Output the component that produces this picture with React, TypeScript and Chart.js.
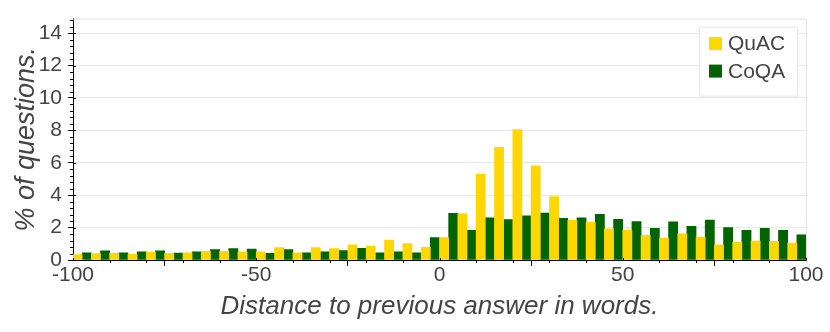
import React, { useEffect, useRef } from "react";
import { Chart, registerables } from "chart.js";

Chart.register(...registerables);

// Bin start (words) for each 5-word bin
const binStarts = [
  -100, -95, -90, -85, -80, -75, -70, -65, -60, -55,
  -50, -45, -40, -35, -30, -25, -20, -15, -10, -5,
  0, 5, 10, 15, 20, 25, 30, 35, 40, 45,
  50, 55, 60, 65, 70, 75, 80, 85, 90, 95,
];

const quacValues = [
  0.33, 0.39, 0.41, 0.35, 0.49, 0.41, 0.45, 0.54, 0.53, 0.49,
  0.51, 0.76, 0.45, 0.76, 0.70, 0.93, 0.86, 1.23, 1.01, 0.78,
  1.38, 2.86, 5.31, 6.95, 8.05, 5.82, 3.91, 2.45, 2.32, 1.93,
  1.85, 1.52, 1.36, 1.61, 1.42, 0.93, 1.09, 1.17, 1.15, 1.05,
];

const coqaValues = [
  0.45, 0.56, 0.45, 0.51, 0.56, 0.43, 0.51, 0.64, 0.70, 0.68,
  0.41, 0.64, 0.45, 0.51, 0.58, 0.72, 0.45, 0.51, 0.45, 1.38,
  2.88, 1.83, 2.61, 2.49, 2.72, 2.90, 2.57, 2.61, 2.82, 2.51,
  2.37, 1.95, 2.35, 2.08, 2.47, 2.00, 1.83, 1.95, 1.83, 1.56,
];

const seriesNames = ["QuAC", "CoQA"];
const seriesColors = ["#FFD700", "#006400"];
const xMajorTicks = [-100, -50, 0, 50, 100];
const xMinorTicks = [-90, -80, -70, -60, -40, -30, -20, -10, 10, 20, 30, 40, 60, 70, 80, 90];
const yMajorTicks = [0, 2, 4, 6, 8, 10, 12, 14];
const xTitle = "Distance to previous answer in words.";
const yTitle = "% of questions.";

const FONT = "'Liberation Sans', Arial, Helvetica, sans-serif";
const TEXT_COLOR = "#444";

const decorPlugin = {
  id: "decor",
  afterDraw(chart: any) {
    const { ctx, chartArea, scales } = chart;
    const xs = scales.x;
    const ys = scales.y;
    ctx.save();
    // frame top / right
    ctx.strokeStyle = "#e3e3e3";
    ctx.lineWidth = 1;
    ctx.beginPath();
    ctx.moveTo(chartArea.left, chartArea.top + 0.5);
    ctx.lineTo(chartArea.right + 0.5, chartArea.top + 0.5);
    ctx.lineTo(chartArea.right + 0.5, chartArea.bottom);
    ctx.stroke();

    ctx.strokeStyle = "#000";
    ctx.beginPath();
    // y minor ticks (every 0.4)
    for (let i = 0; i < 38; i++) {
      const v = i * 0.4;
      if (Math.abs(v / 2 - Math.round(v / 2)) < 1e-6) continue;
      if (v > 14.9) continue;
      const p = Math.round(ys.getPixelForValue(v)) + 0.5;
      ctx.moveTo(chartArea.left - 3, p);
      ctx.lineTo(chartArea.left, p);
    }
    // y major inner extension
    yMajorTicks.forEach((v) => {
      const p = Math.round(ys.getPixelForValue(v)) + 0.5;
      ctx.moveTo(chartArea.left, p);
      ctx.lineTo(chartArea.left + 3, p);
    });
    // x minor ticks
    xMinorTicks.forEach((v) => {
      const p = Math.round(xs.getPixelForValue(v)) + 0.5;
      ctx.moveTo(p, chartArea.bottom);
      ctx.lineTo(p, chartArea.bottom + 3);
    });
    // x major inner extension
    xMajorTicks.forEach((v) => {
      const p = Math.round(xs.getPixelForValue(v)) + 0.5;
      ctx.moveTo(p, chartArea.bottom);
      ctx.lineTo(p, chartArea.bottom - 2);
    });
    ctx.stroke();

    // legend
    const bx = chartArea.right - 107;
    const by = chartArea.top + 8;
    ctx.fillStyle = "#fff";
    ctx.fillRect(bx, by, 98, 69);
    ctx.strokeStyle = "#e6e6e6";
    ctx.strokeRect(bx + 0.5, by + 0.5, 98, 69);
    ctx.font = `21px ${FONT}`;
    ctx.textBaseline = "middle";
    ctx.textAlign = "left";
    chart.data.datasets.forEach((ds: any, i: number) => {
      const cy = by + 17 + i * 27.5;
      ctx.fillStyle = ds.backgroundColor;
      ctx.fillRect(bx + 10, cy - 6.5, 13, 13);
      ctx.fillStyle = TEXT_COLOR;
      ctx.fillText(ds.label, bx + 29, cy + 1);
    });
    ctx.restore();
  },
};

export default function App() {
  const canvasRef = useRef<HTMLCanvasElement | null>(null);

  useEffect(() => {
    if (!canvasRef.current) return;
    const datasets = seriesNames.map((name, s) => {
      const vals = s === 0 ? quacValues : coqaValues;
      return {
        label: name,
        data: binStarts.map((b, i) => ({ x: b + 2.5, y: vals[i] })),
        backgroundColor: seriesColors[s],
        borderWidth: 0,
        categoryPercentage: 1,
        barPercentage: 1,
      };
    });

    const chart = new Chart(canvasRef.current, {
      type: "bar",
      data: { datasets } as any,
      plugins: [decorPlugin],
      options: {
        animation: false,
        responsive: true,
        maintainAspectRatio: false,
        layout: { padding: { top: 4, right: 24, left: 0, bottom: 0 } },
        plugins: {
          legend: { display: false },
          tooltip: { enabled: false },
        },
        scales: {
          x: {
            type: "linear",
            min: -100,
            max: 100,
            offset: false,
            afterFit: (scale: any) => {
              scale.height = 72;
            },
            afterBuildTicks: (scale: any) => {
              scale.ticks = xMajorTicks.map((v) => ({ value: v }));
            },
            ticks: {
              autoSkip: false,
              maxRotation: 0,
              padding: -1,
              color: TEXT_COLOR,
              font: { family: FONT, size: 21, lineHeight: 1 },
              callback: (v: any) => String(v),
            },
            grid: {
              drawOnChartArea: false,
              drawTicks: true,
              tickLength: 6,
              tickColor: "#000",
            },
            border: { display: true, color: "#000", width: 1 },
            title: {
              display: true,
              text: xTitle,
              color: TEXT_COLOR,
              font: { family: FONT, size: 26, style: "italic" },
              padding: { top: 0, bottom: 10 },
            },
          },
          y: {
            type: "linear",
            min: 0,
            max: 14.9,
            afterFit: (scale: any) => {
              scale.width = 73;
            },
            afterBuildTicks: (scale: any) => {
              scale.ticks = yMajorTicks.map((v) => ({ value: v }));
            },
            ticks: {
              autoSkip: false,
              padding: 6,
              color: TEXT_COLOR,
              font: { family: FONT, size: 21 },
              callback: (v: any) => String(v),
            },
            grid: {
              drawOnChartArea: true,
              drawTicks: true,
              tickLength: 5,
              tickColor: "#000",
              color: "#e8e8e8",
            },
            border: { display: true, color: "#000", width: 1 },
            title: {
              display: true,
              text: yTitle,
              color: TEXT_COLOR,
              font: { family: FONT, size: 27, style: "italic" },
              padding: { top: 10, bottom: 0 },
            },
          },
        },
      } as any,
    });
    return () => chart.destroy();
  }, []);

  return (
    <div style={{ position: "fixed", left: 0, top: 0, width: 830, height: 332, background: "#fff" }}>
      <canvas ref={canvasRef} />
    </div>
  );
}
